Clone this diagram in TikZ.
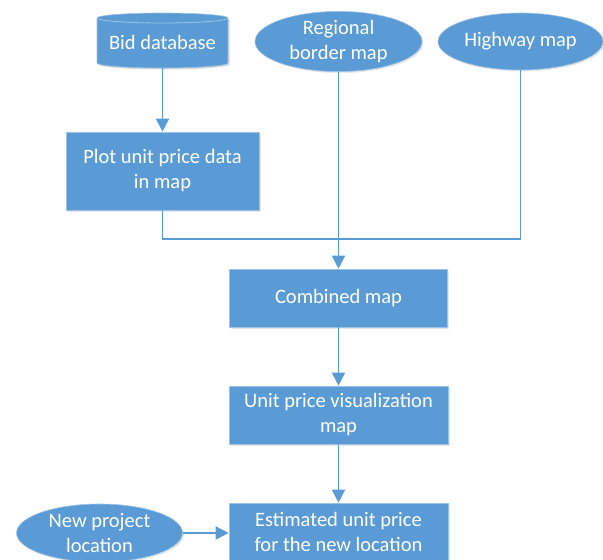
\documentclass[tikz,border=0pt]{standalone}
\usepackage{fontspec}
\setmainfont{Carlito}
\usetikzlibrary{arrows.meta,shapes.geometric,shadows}
\definecolor{oblue}{HTML}{5B9BD5}
\definecolor{olight}{HTML}{9DC3E6}
\tikzset{
  boxnode/.style={rectangle, fill=oblue, draw=olight, line width=0.6pt, text=white, align=center,
    font=\fontsize{20.5}{25}\selectfont, inner sep=0pt,
    drop shadow={opacity=0.18, shadow xshift=1.5pt, shadow yshift=-1.5pt}},
  ellnode/.style={ellipse, fill=oblue, draw=olight, line width=0.6pt, text=white, align=center,
    font=\fontsize{20.5}{25}\selectfont, inner sep=0pt,
    drop shadow={opacity=0.18, shadow xshift=1.5pt, shadow yshift=-1.5pt}},
  conn/.style={draw=oblue, line width=1.6pt},
  arr/.style={conn, -{Triangle[width=13pt,length=13pt]}}
}
\begin{document}
\begin{tikzpicture}[x=1pt,y=-1pt]
\useasboundingbox (0,0) rectangle (603,560);
% cylinder
\fill[black, opacity=0.15] (98.5,19.5) -- (98.5,64.5) arc (180:0:65.5 and 5) -- (229.5,19.5) -- cycle;
\path[fill=oblue, draw=olight, line width=0.6pt] (97,18) -- (97,63) arc (180:0:65.5 and 5) -- (228,18) arc (0:-180:65.5 and 5) -- cycle;
\draw[olight, line width=0.8pt] (97,18) arc (180:0:65.5 and 5);
\node[text=white, font=\fontsize{20.5}{25}\selectfont, inner sep=0pt] (db) at (162.5,42) {Bid database};
\coordinate (dbbot) at (162.5,68);

\node[ellnode, minimum width=167pt, minimum height=57pt] (reg) at (338.5,41.5) {Regional\\border map};
\node[ellnode, minimum width=165pt, minimum height=57pt] (hwy) at (520.5,41.5) {Highway map};

\node[boxnode, minimum width=193pt, minimum height=78pt] (plot) at (162.5,171) {Plot unit price data\\in map};
\node[boxnode, minimum width=218pt, minimum height=58pt] (comb) at (338.5,298) {Combined map};
\node[boxnode, minimum width=219pt, minimum height=58pt] (viz) at (338.5,415) {Unit price visualization\\map};
\node[boxnode, minimum width=219pt, minimum height=58pt] (est) at (338.5,532) {Estimated unit price\\for the new location};
\node[ellnode, minimum width=166pt, minimum height=58pt] (newp) at (99.5,533) {New project\\location};

\coordinate (join) at (338.5,239);

\draw[arr] (dbbot) -- (plot.north);
\draw[conn] (plot.south) -- (plot.south |- join) -- (join);
\draw[conn] (hwy.south) -- (hwy.south |- join) -- (join);
\draw[arr] (reg.south) -- (comb.north);
\draw[arr] (comb.south) -- (viz.north);
\draw[arr] (viz.south) -- (est.north);
\draw[arr] (newp.east) -- (newp.east -| est.west);
\end{tikzpicture}
\end{document}
